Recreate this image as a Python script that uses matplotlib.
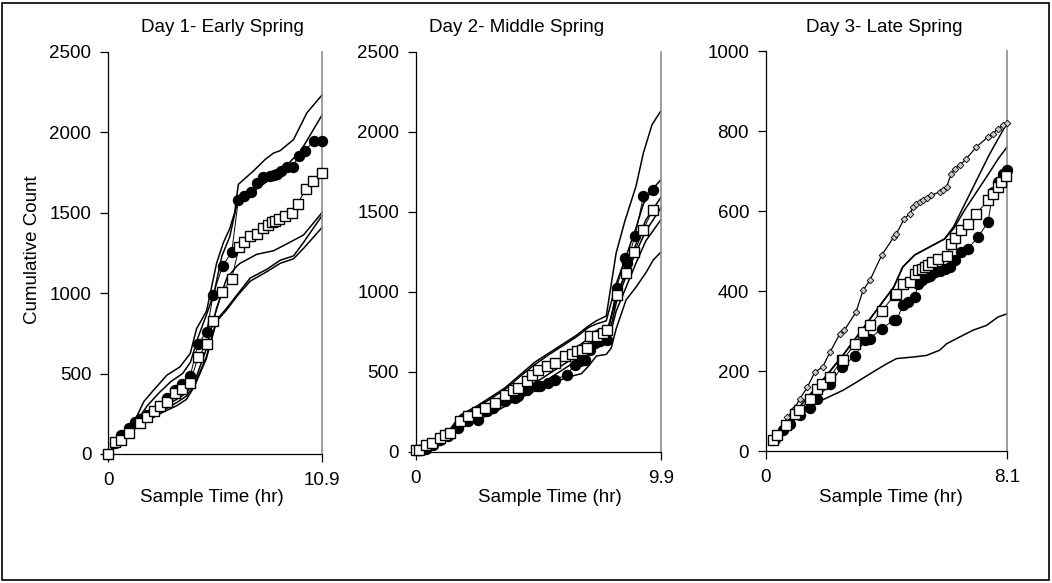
import matplotlib
matplotlib.use("Agg")
import matplotlib.pyplot as plt
from matplotlib.patches import Rectangle

plt.rcParams['font.family'] = ['Liberation Sans', 'DejaVu Sans']

# ---------------- Day 1 ----------------
d1_title = "Day 1- Early Spring"
d1_tmax = 10.9
d1_circ_t = [0, 0.37, 0.68, 1.05, 1.4, 1.65, 1.98, 2.33, 2.63, 3.0, 3.43, 3.77, 4.19, 4.58, 5.02, 5.36,
             5.84, 6.3, 6.64, 6.93, 7.27, 7.58, 7.92, 8.23, 8.43, 8.63, 8.8, 9.11, 9.4, 9.71, 10.05, 10.47, 10.9]
d1_circ_v = [0, 70, 120, 160, 200, 215, 240, 270, 300, 350, 400, 435, 485, 683, 759, 991,
             1170, 1254, 1580, 1606, 1630, 1681, 1719, 1726, 1731, 1741, 1759, 1785, 1785, 1852, 1883, 1948, 1948]
d1_sq_t = [0, 0.37, 0.68, 1.05, 1.65, 1.98, 2.33, 2.63, 3.0, 3.43, 3.77, 4.19, 4.58, 5.02, 5.36, 5.82,
           6.3, 6.68, 6.95, 7.24, 7.58, 7.92, 8.17, 8.34, 8.52, 8.69, 9.03, 9.37, 9.66, 10.08, 10.44, 10.9]
d1_sq_v = [0, 72, 87, 128, 195, 232, 269, 298, 325, 377, 402, 443, 601, 681, 828, 1006,
           1089, 1287, 1315, 1352, 1370, 1404, 1422, 1444, 1450, 1463, 1481, 1500, 1556, 1648, 1694, 1746]
d1_l1_t = [0, 0.9, 1.3, 1.83, 2.33, 3.0, 3.67, 4.19, 4.51, 5.02, 5.53, 5.88, 6.2, 6.45, 6.64, 7.41, 8.0,
           8.43, 8.77, 9.45, 10.13, 10.9]
d1_l1_v = [0, 130, 190, 327, 398, 490, 542, 625, 778, 889, 1185, 1315, 1400, 1500, 1676, 1759, 1830,
           1870, 1885, 1954, 2120, 2231]
d1_l2_t = [0, 0.9, 1.5, 2.0, 2.6, 3.2, 3.8, 4.2, 4.6, 5.0, 5.4, 5.8, 6.2, 6.64, 7.58, 8.43, 9.11, 9.8, 10.9]
d1_l2_v = [0, 120, 210, 300, 380, 450, 500, 570, 730, 860, 1000, 1230, 1350, 1593, 1648, 1722, 1796,
           1880, 2106]
d1_l3_t = [0, 1.0, 1.6, 2.2, 2.8, 3.5, 4.0, 4.5, 5.0, 5.53, 6.05, 6.56, 6.73, 7.58, 8.43, 9.11, 9.96, 10.9]
d1_l3_v = [0, 130, 200, 240, 290, 340, 380, 480, 650, 907, 1093, 1167, 1185, 1241, 1263, 1306, 1361, 1500]
d1_l4_t = [0, 1.0, 1.6, 2.2, 2.8, 3.5, 4.0, 4.4, 5.0, 5.53, 6.05, 6.64, 7.24, 8.09, 8.77, 9.45, 9.96, 10.9]
d1_l4_v = [0, 130, 190, 230, 270, 320, 360, 430, 600, 833, 907, 1000, 1093, 1148, 1204, 1231, 1315, 1481]
d1_l5_v = [0, 130, 180, 220, 260, 300, 340, 420, 590, 823, 897, 991, 1074, 1133, 1185, 1213, 1278, 1407]

# ---------------- Day 2 ----------------
d2_title = "Day 2- Middle Spring"
d2_tmax = 9.9
d2_circ_t = [0.15, 0.4, 0.7, 1.0, 1.3, 1.7, 2.13, 2.53, 2.87, 3.14, 3.61, 4.01, 4.15, 4.49, 4.89, 5.02,
             5.36, 5.63, 6.10, 6.44, 6.64, 6.84, 7.04, 7.25, 7.45, 7.72, 8.12, 8.46, 8.53, 8.86, 9.2, 9.58]
d2_circ_v = [10, 20, 45, 75, 100, 150, 192, 202, 254, 275, 317, 337, 348, 390, 410, 410,
             431, 452, 483, 546, 567, 577, 640, 681, 692, 702, 1025, 1212, 1181, 1348, 1598, 1640]
d2_sq_t = [0, 0.15, 0.42, 0.65, 0.98, 1.19, 1.39, 1.79, 2.13, 2.46, 2.8, 3.21, 3.61, 3.95, 4.15, 4.49,
           4.69, 4.96, 5.29, 5.63, 6.03, 6.3, 6.51, 6.71, 6.94, 7.04, 7.31, 7.58, 7.74, 8.12, 8.49, 8.84, 9.2, 9.58]
d2_sq_v = [15, 15, 46, 56, 87, 108, 119, 192, 227, 250, 275, 306, 354, 385, 400, 442,
           483, 515, 535, 556, 598, 615, 629, 640, 650, 723, 723, 744, 765, 983, 1119, 1250, 1390, 1515]
d2_l1_t = [0, 0.5, 1.2, 1.8, 2.5, 3.0, 3.6, 4.2, 4.8, 5.4, 6.0, 6.5, 7.0, 7.3, 7.7, 8.1, 8.45, 8.9,
           9.2, 9.55, 9.9]
d2_l1_v = [0, 40, 100, 230, 290, 340, 400, 480, 560, 620, 680, 730, 790, 820, 850, 1244, 1442, 1660,
           1869, 2046, 2130]
d2_l2_v = [0, 40, 100, 220, 280, 330, 390, 470, 545, 610, 670, 720, 780, 800, 820, 1050, 1200, 1400,
           1550, 1640, 1700]
d2_l3_t = [0, 1.2, 1.8, 2.5, 3.2, 4.0, 4.8, 5.5, 6.2, 6.9, 7.3, 7.8, 8.1, 8.5, 8.9, 9.3, 9.9]
d2_l3_v = [0, 100, 200, 250, 300, 380, 480, 550, 620, 700, 760, 780, 960, 1130, 1300, 1450, 1590]
d2_l4_v = [0, 100, 180, 230, 290, 360, 430, 500, 570, 640, 700, 720, 930, 1100, 1250, 1380, 1525]
d2_l5_v = [0, 100, 170, 210, 270, 330, 400, 470, 540, 620, 660, 700, 880, 1030, 1180, 1320, 1450]
d2_l6_t = [0, 1.0, 1.8, 2.5, 3.2, 4.0, 4.8, 5.5, 6.2, 6.7, 7.0, 7.3, 7.7, 7.9, 8.1, 8.5, 8.9, 9.3, 9.6, 9.9]
d2_l6_v = [0, 80, 150, 200, 250, 320, 380, 430, 470, 490, 540, 600, 610, 650, 770, 950, 1030, 1120, 1200, 1248]

# ---------------- Day 3 ----------------
d3_title = "Day 3- Late Spring"
d3_tmax = 8.1
d3_dia_t = [0.2, 0.42, 0.73, 0.93, 1.15, 1.40, 1.65, 1.91, 2.16, 2.49, 2.64, 3.03, 3.27, 3.50, 3.89, 4.30,
            4.39, 4.65, 4.84, 4.95, 5.06, 5.17, 5.28, 5.40, 5.56, 5.84, 5.95, 6.07, 6.23, 6.35, 6.51,
            6.74, 7.07, 7.46, 7.63, 7.80, 7.97, 8.1]
d3_dia_v = [25, 43, 85, 102, 131, 160, 197, 210, 247, 293, 302, 347, 402, 427, 489, 535,
            543, 581, 593, 610, 617, 623, 628, 633, 639, 648, 652, 660, 693, 706, 714,
            731, 760, 785, 793, 806, 814, 820]
d3_sq_t = [0.23, 0.39, 0.68, 0.98, 1.13, 1.49, 1.71, 1.88, 2.16, 2.55, 2.6, 2.99, 3.27, 3.5, 3.89, 4.33,
           4.39, 4.61, 4.84, 5.0, 5.12, 5.23, 5.34, 5.45, 5.59, 5.79, 6.07, 6.23, 6.35, 6.57, 6.79,
           7.07, 7.46, 7.63, 7.80, 7.91, 8.08]
d3_sq_v = [27, 39, 64, 93, 102, 131, 156, 168, 185, 227, 228, 268, 297, 314, 350, 389,
           393, 417, 423, 443, 452, 456, 460, 464, 473, 481, 487, 518, 533, 552, 568,
           593, 627, 643, 660, 673, 687]
d3_circ_t = [0.3, 0.59, 0.82, 1.15, 1.49, 1.71, 2.16, 2.55, 2.99, 3.33, 3.5, 3.89, 4.30, 4.39, 4.61, 4.78,
             5.0, 5.12, 5.23, 5.4, 5.51, 5.68, 5.84, 6.01, 6.18, 6.35, 6.57, 6.79, 7.13, 7.46, 7.63,
             7.8, 7.97, 8.1]
d3_circ_v = [30, 52, 68, 89, 108, 131, 167, 210, 237, 277, 281, 306, 327, 327, 364, 373,
             385, 418, 427, 435, 438, 448, 450, 456, 460, 477, 497, 506, 535, 572, 648,
             673, 693, 703]
d3_l1_t = [0.2, 0.7, 1.3, 2.0, 2.6, 3.2, 3.8, 4.3, 4.6, 5.0, 5.5, 6.0, 6.3, 6.7, 7.1, 7.5, 7.8, 8.1]
d3_l1_v = [25, 70, 125, 185, 240, 300, 360, 410, 460, 490, 510, 530, 560, 620, 680, 740, 780, 820]
d3_l2_v = [25, 70, 125, 185, 240, 300, 360, 410, 460, 490, 510, 530, 555, 605, 650, 695, 730, 760]
d3_l3_t = [0.2, 0.6, 1.0, 1.5, 2.0, 2.6, 3.05, 3.5, 4.06, 4.39, 4.95, 5.4, 5.84, 6.07, 6.51, 6.96,
           7.41, 7.8, 8.1]
d3_l3_v = [25, 55, 85, 115, 131, 152, 172, 193, 218, 231, 235, 239, 252, 268, 285, 302, 314, 335, 343]

W, H = 1052, 583
fig = plt.figure(figsize=(W / 100, H / 100), dpi=100)
fig.patches.append(Rectangle((2 / W, 3 / H), 1047 / W, 577 / H, transform=fig.transFigure,
                             fill=False, edgecolor='black', linewidth=1.2))

FS = 13.5


def make_axes(px_left, px_right, px_bottom, px_top):
    ax = fig.add_axes([px_left / W, 1 - px_bottom / H, (px_right - px_left) / W, (px_bottom - px_top) / H])
    ax.spines['top'].set_visible(False)
    ax.spines['right'].set_color('#8c8c8c')
    ax.spines['right'].set_linewidth(1.2)
    ax.spines['left'].set_linewidth(0.9)
    ax.spines['bottom'].set_linewidth(0.9)
    ax.tick_params(direction='out', length=6, width=0.9, labelsize=FS)
    ax.tick_params(axis='y', pad=6)
    ax.tick_params(axis='x', pad=7)
    return ax


def plain(ax, t, v):
    ax.plot(t, v, color='black', lw=1.1, clip_on=False, zorder=2)


def circ(ax, t, v):
    ax.plot(t, v, color='black', lw=0.7, marker='o', ms=7.2, mfc='black', mec='black', clip_on=False, zorder=3)


def sq(ax, t, v):
    ax.plot(t, v, color='black', lw=0.7, marker='s', ms=7.5, mfc='white', mec='black', mew=1.0,
            clip_on=False, zorder=4)


# Panel 1
ax1 = make_axes(108, 322, 454, 51.7)
plain(ax1, d1_l1_t, d1_l1_v)
plain(ax1, d1_l2_t, d1_l2_v)
plain(ax1, d1_l3_t, d1_l3_v)
plain(ax1, d1_l4_t, d1_l4_v)
plain(ax1, d1_l4_t, d1_l5_v)
circ(ax1, d1_circ_t, d1_circ_v)
sq(ax1, d1_sq_t, d1_sq_v)
ax1.set_xlim(0, d1_tmax)
ax1.set_ylim(0, 2500)
ax1.set_yticks([0, 500, 1000, 1500, 2000, 2500])
ax1.set_xticks([0, d1_tmax])
ax1.set_xticklabels(['0', '10.9'])

# Panel 2
ax2 = make_axes(415.7, 660.7, 452, 52)
plain(ax2, d2_l1_t, d2_l1_v)
plain(ax2, d2_l1_t, d2_l2_v)
plain(ax2, d2_l3_t, d2_l3_v)
plain(ax2, d2_l3_t, d2_l4_v)
plain(ax2, d2_l3_t, d2_l5_v)
plain(ax2, d2_l6_t, d2_l6_v)
circ(ax2, d2_circ_t, d2_circ_v)
sq(ax2, d2_sq_t, d2_sq_v)
ax2.set_xlim(0, d2_tmax)
ax2.set_ylim(0, 2500)
ax2.set_yticks([0, 500, 1000, 1500, 2000, 2500])
ax2.set_xticks([0, d2_tmax])
ax2.set_xticklabels(['0', '9.9'])

# Panel 3
ax3 = make_axes(765.7, 1007, 451, 51)
plain(ax3, d3_l1_t, d3_l1_v)
plain(ax3, d3_l1_t, d3_l2_v)
plain(ax3, d3_l3_t, d3_l3_v)
ax3.plot(d3_dia_t, d3_dia_v, color='black', lw=0.9, marker='D', ms=3.4, mfc='#c8c8c8', mec='black',
         mew=0.6, clip_on=False, zorder=3)
circ(ax3, d3_circ_t, d3_circ_v)
sq(ax3, d3_sq_t, d3_sq_v)
ax3.set_xlim(0, d3_tmax)
ax3.set_ylim(0, 1000)
ax3.set_yticks([0, 200, 400, 600, 800, 1000])
ax3.set_xticks([0, d3_tmax])
ax3.set_xticklabels(['0', '8.1'])

# Texts
fig.text(33 / W, 1 - 250 / H, 'Cumulative Count', rotation=90, ha='center', va='center', fontsize=FS)
for xc in (212, 550, 891):
    fig.text(xc / W, 1 - 498 / H, 'Sample Time (hr)', ha='center', va='center', fontsize=FS)
fig.text(222 / W, 1 - 27 / H, d1_title, ha='center', va='center', fontsize=FS)
fig.text(517 / W, 1 - 27 / H, d2_title, ha='center', va='center', fontsize=FS)
fig.text(884 / W, 1 - 27 / H, d3_title, ha='center', va='center', fontsize=FS)

fig.savefig('out.png', dpi=100)
